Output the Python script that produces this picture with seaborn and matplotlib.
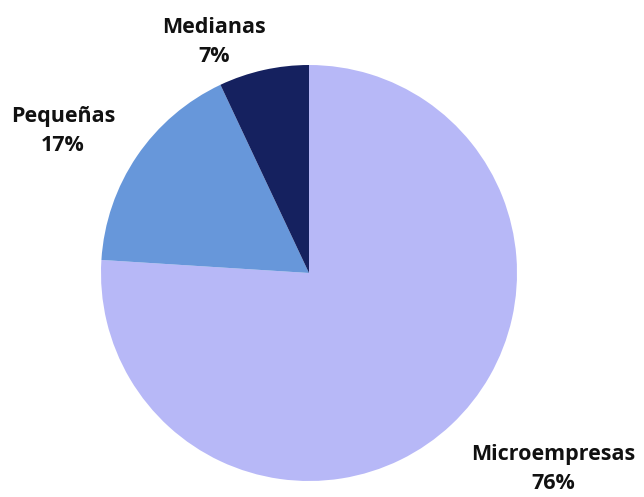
import matplotlib
matplotlib.use("Agg")
import matplotlib.pyplot as plt
import seaborn as sns

categories = ["Microempresas", "Pequeñas", "Medianas"]
values = [76, 17, 7]
pct_labels = ["76%", "17%", "7%"]
colors = ["#B7B8F7", "#6797DA", "#15215F"]

sns.set_theme(style="white")
plt.rcParams['font.family'] = ['Open Sans', 'DejaVu Sans']

fig = plt.figure(figsize=(6.44, 4.97), dpi=100)
ax = fig.add_axes([101/644, 16/497, 416/644, 416/497])
ax.pie(values, colors=colors, startangle=90, counterclock=False,
       radius=1.0, wedgeprops=dict(linewidth=0))
ax.set_xlim(-1, 1)
ax.set_ylim(-1, 1)
ax.set_aspect('equal')
ax.axis('off')

label_pos = [(1.173, -0.94), (-1.183, 0.685), (-0.457, 1.11)]
for cat, pct, (x, y) in zip(categories, pct_labels, label_pos):
    ax.text(x, y, f"{cat}\n{pct}", ha='center', va='center', fontsize=15.5,
            fontweight='bold', color='#111111', linespacing=1.5, clip_on=False)

fig.savefig("out.png", dpi=100, facecolor='white')
